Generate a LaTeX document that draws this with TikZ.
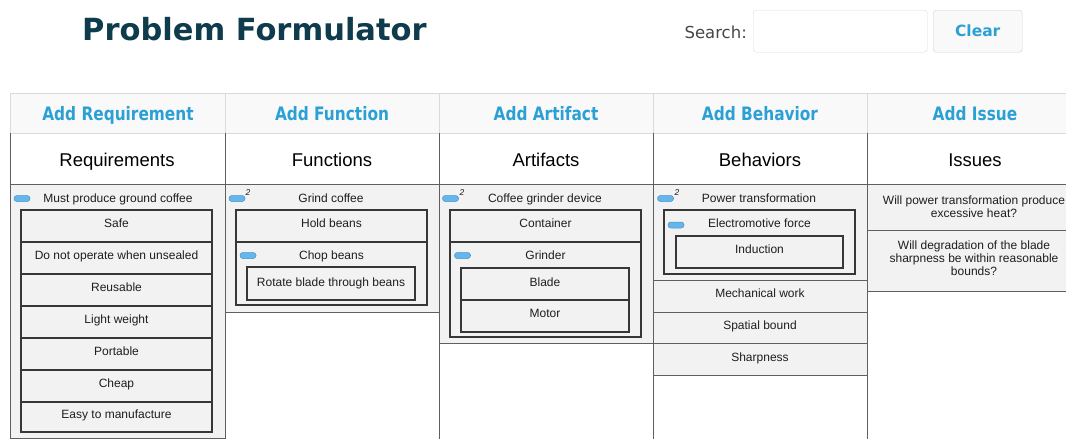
\documentclass[tikz,border=0pt]{standalone}
\usepackage{fontspec}
\setmainfont{Liberation Sans}
\newfontfamily\dejavu{DejaVu Sans}
\definecolor{titlecol}{RGB}{14,60,76}
\definecolor{linkblue}{RGB}{43,160,212}
\definecolor{cellfill}{RGB}{242,242,242}
\definecolor{hdrfill}{RGB}{249,249,249}
\definecolor{hdrline}{RGB}{218,218,218}
\definecolor{gridline}{RGB}{95,95,95}
\definecolor{boxline}{RGB}{55,55,55}
\definecolor{pillblue}{RGB}{100,182,238}
\definecolor{searchgray}{RGB}{70,70,70}
\definecolor{itemcol}{RGB}{30,30,30}
\tikzset{
  itemtxt/.style={font=\fontsize{12}{13}\selectfont, text=itemcol, anchor=base, inner sep=0pt},
  celltxt/.style={font=\fontsize{12}{13}\selectfont, text=itemcol, anchor=north, inner sep=0pt, align=center},
  cellbox/.style={draw=boxline, line width=1.1pt, fill=cellfill, anchor=north west, inner sep=0pt, outer sep=0pt},
  addtxt/.style={font=\dejavu\bfseries\fontsize{18.5}{20}\selectfont, text=linkblue, anchor=base, inner sep=0pt},
  coltxt/.style={font=\fontsize{18.5}{20}\selectfont, text=black, anchor=base, inner sep=0pt},
  pill/.style={fill=pillblue, draw=pillblue!80!black, line width=0.5pt, rounded corners=2.8pt, minimum width=16pt, minimum height=6pt, inner sep=0pt},
  supnum/.style={font=\fontsize{8.5}{9}\selectfont\itshape, text=itemcol, inner sep=0pt},
  grid/.style={draw=gridline, line width=1pt},
  hgrid/.style={draw=hdrline, line width=0.8pt}
}
\begin{document}
\begin{tikzpicture}[x=1pt,y=-1pt]
\useasboundingbox[fill=white] (0,0) rectangle (1066,439);

% ---------- top bar ----------
\node[font=\dejavu\bfseries\fontsize{30.5}{34}\selectfont, text=titlecol, anchor=base west, inner sep=0pt] (title) at (82,40) {Problem Formulator};
\node[font=\dejavu\fontsize{16.5}{18}\selectfont, text=searchgray, anchor=base east, inner sep=0pt] (searchlbl) at (747,38) {Search:};
\node[draw=black!14, fill=white, rounded corners=3pt, minimum width=174pt, minimum height=42pt, anchor=north west, inner sep=0pt] (searchbox) at (753,10) {};
\node[draw=black!18, fill=hdrfill, rounded corners=3pt, minimum width=89pt, minimum height=42pt, anchor=north west, inner sep=0pt] (clearbtn) at (933,10) {};
\node[font=\dejavu\bfseries\fontsize{15.5}{17}\selectfont, text=linkblue, inner sep=0pt] (clear) at (clearbtn.center) {Clear};

% ---------- table backgrounds ----------
\fill[hdrfill] (10,93) rectangle (1066,133);
\fill[cellfill] (10,184) rectangle (225,438);
\fill[cellfill] (225,184) rectangle (439,312);
\fill[cellfill] (439,184) rectangle (653,343);
\fill[cellfill] (653,184) rectangle (867,375);
\fill[cellfill] (867,184) rectangle (1066,291);

% ---------- grid ----------
\draw[hgrid] (10,93) -- (1066,93);
\draw[hgrid] (10,133) -- (1066,133);
\foreach \cx in {10,225,439,653,867} {
  \draw[hgrid] (\cx,93) -- (\cx,133);
  \draw[grid] (\cx,133) -- (\cx,439);
}
\draw[grid] (10,184) -- (1066,184);
\draw[grid] (10,438) -- (225,438);
\draw[grid] (225,312) -- (439,312);
\draw[grid] (439,343) -- (653,343);
\draw[grid] (653,280) -- (867,280);
\draw[grid] (653,312) -- (867,312);
\draw[grid] (653,343) -- (867,343);
\draw[grid] (653,375) -- (867,375);
\draw[grid] (867,230) -- (1066,230);
\draw[grid] (867,291) -- (1066,291);

% ---------- headers ----------
\node[addtxt] (addreq) at (118,120) {\scalebox{0.83}[1]{Add Requirement}};
\node[addtxt] (addfun) at (332,120) {\scalebox{0.83}[1]{Add Function}};
\node[addtxt] (addart) at (546,120) {\scalebox{0.83}[1]{Add Artifact}};
\node[addtxt] (addbeh) at (760,120) {\scalebox{0.83}[1]{Add Behavior}};
\node[addtxt] (addiss) at (975,120) {\scalebox{0.83}[1]{Add Issue}};

\node[coltxt] (colreq) at (117,166) {Requirements};
\node[coltxt] (colfun) at (332,166) {Functions};
\node[coltxt] (colart) at (546,166) {Artifacts};
\node[coltxt] (colbeh) at (760,166) {Behaviors};
\node[coltxt] (coliss) at (975,166) {Issues};

% ---------- Requirements ----------
\node[pill] (preq) at (22,198.5) {};
\node[itemtxt] (req0) at (118,202) {Must produce ground coffee};
\node[cellbox, minimum width=191pt, minimum height=32pt] (r1) at (21,210) {};
\node[cellbox, minimum width=191pt, minimum height=32pt] (r2) at (21,242) {};
\node[cellbox, minimum width=191pt, minimum height=32pt] (r3) at (21,274) {};
\node[cellbox, minimum width=191pt, minimum height=32pt] (r4) at (21,306) {};
\node[cellbox, minimum width=191pt, minimum height=32pt] (r5) at (21,338) {};
\node[cellbox, minimum width=191pt, minimum height=32pt] (r6) at (21,370) {};
\node[cellbox, minimum width=191pt, minimum height=30pt] (r7) at (21,402) {};
\node[itemtxt] (r1t) at ([yshift=-17.5pt]r1.north) {Safe};
\node[itemtxt] (r2t) at ([yshift=-17.5pt]r2.north) {Do not operate when unsealed};
\node[itemtxt] (r3t) at ([yshift=-17.5pt]r3.north) {Reusable};
\node[itemtxt] (r4t) at ([yshift=-17.5pt]r4.north) {Light weight};
\node[itemtxt] (r5t) at ([yshift=-17.5pt]r5.north) {Portable};
\node[itemtxt] (r6t) at ([yshift=-17.5pt]r6.north) {Cheap};
\node[itemtxt] (r7t) at ([yshift=-16.5pt]r7.north) {Easy to manufacture};

% ---------- Functions ----------
\node[pill] (pfun) at (237,198.5) {};
\node[supnum] (sfun) at (248,192.5) {2};
\node[itemtxt] (fun0) at (331,202) {Grind coffee};
\node[cellbox, minimum width=191pt, minimum height=32pt] (f1) at (236,210) {};
\node[cellbox, minimum width=191pt, minimum height=63pt] (f2) at (236,242) {};
\node[cellbox, minimum width=168pt, minimum height=33pt] (f3) at (247,267) {};
\node[itemtxt] (f1t) at ([yshift=-17.5pt]f1.north) {Hold beans};
\node[pill] (pf2) at (248,255.5) {};
\node[itemtxt] (f2t) at ([yshift=-17pt]f2.north) {Chop beans};
\node[itemtxt] (f3t) at ([yshift=-19pt]f3.north) {Rotate blade through beans};

% ---------- Artifacts ----------
\node[pill] (part) at (450.5,198.5) {};
\node[supnum] (sart) at (462,192.5) {2};
\node[itemtxt] (art0) at (545,202) {Coffee grinder device};
\node[cellbox, minimum width=191pt, minimum height=32pt] (a1) at (450,210) {};
\node[cellbox, minimum width=191pt, minimum height=95pt] (a2) at (450,242) {};
\node[cellbox, minimum width=168pt, minimum height=32pt] (a3) at (461,268) {};
\node[cellbox, minimum width=168pt, minimum height=32pt] (a4) at (461,300) {};
\node[itemtxt] (a1t) at ([yshift=-17.5pt]a1.north) {Container};
\node[pill] (pa2) at (462.5,255.5) {};
\node[itemtxt] (a2t) at ([yshift=-17pt]a2.north) {Grinder};
\node[itemtxt] (a3t) at ([yshift=-18pt]a3.north) {Blade};
\node[itemtxt] (a4t) at ([yshift=-17pt]a4.north) {Motor};

% ---------- Behaviors ----------
\node[pill] (pbeh) at (665.5,198.5) {};
\node[supnum] (sbeh) at (677,192.5) {2};
\node[itemtxt] (beh0) at (759,202) {Power transformation};
\node[cellbox, minimum width=191pt, minimum height=64pt] (b1) at (664,210) {};
\node[cellbox, minimum width=167pt, minimum height=32pt] (b2) at (676,236) {};
\node[pill] (pb1) at (676,225) {};
\node[itemtxt] (b1t) at ([yshift=-17pt]b1.north) {Electromotive force};
\node[itemtxt] (b2t) at ([yshift=-17.5pt]b2.north) {Induction};
\node[itemtxt] (b3t) at (760,297) {Mechanical work};
\node[itemtxt] (b4t) at (760,329.5) {Spatial bound};
\node[itemtxt] (b5t) at (760,361) {Sharpness};

% ---------- Issues ----------
\node[celltxt] (i1) at (974,195.3) {Will power transformation produce\\excessive heat?};
\node[celltxt] (i2) at (974,240.3) {Will degradation of the blade\\sharpness be within reasonable\\bounds?};
\end{tikzpicture}
\end{document}
